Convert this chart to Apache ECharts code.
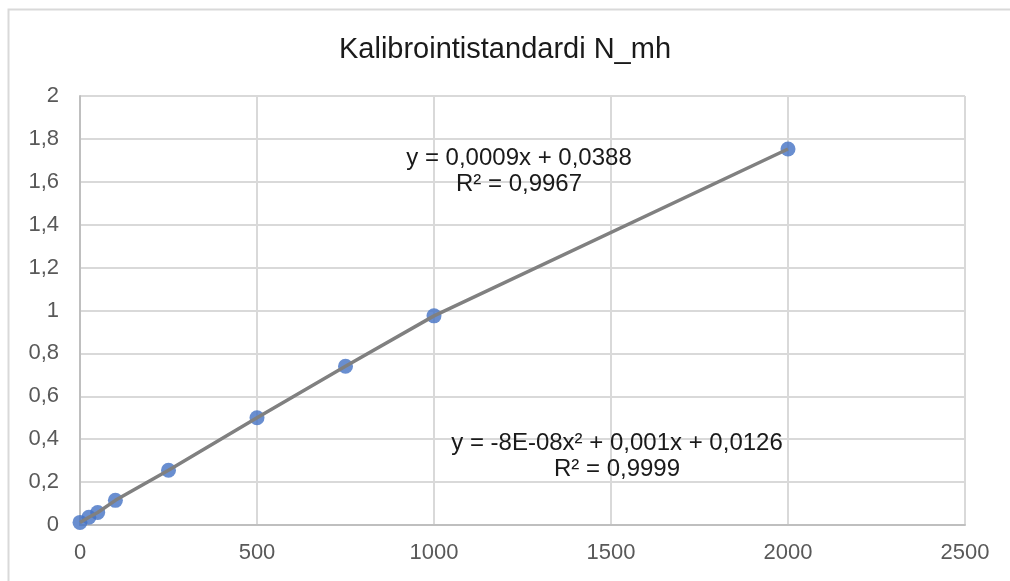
<!DOCTYPE html>
<html>
<head>
<meta charset="utf-8">
<script src="https://cdn.jsdelivr.net/npm/echarts@6/dist/echarts.min.js"></script>
<style>
  html, body { margin: 0; padding: 0; background: #ffffff; }
  #chart { width: 1010px; height: 581px; }
</style>
</head>
<body>
<div id="chart"></div>
<script>
// Calibration standards: concentration vs. response
const concentrations = [0, 25, 50, 100, 250, 500, 750, 1000, 2000];
const responses = [0.012, 0.036, 0.058, 0.115, 0.255, 0.500, 0.740, 0.975, 1.753];

const xTicks = [0, 500, 1000, 1500, 2000, 2500];
const yTicks = [0, 0.2, 0.4, 0.6, 0.8, 1, 1.2, 1.4, 1.6, 1.8, 2];

const titleText = 'Kalibrointistandardi N_mh';
const linearFitLines = ['y = 0,0009x + 0,0388', 'R² = 0,9967'];
const polyFitLines = ['y = -8E-08x² + 0,001x + 0,0126', 'R² = 0,9999'];

const points = concentrations.map((c, i) => [c, responses[i]]);
const fmtY = v => String(+Number(v).toFixed(1)).replace('.', ',');
const fmtX = v => String(Math.round(v));

const FONT = '"Liberation Sans", Arial, sans-serif';
const chart = echarts.init(document.getElementById('chart'));

chart.setOption({
  animation: false,
  backgroundColor: '#ffffff',
  title: {
    text: titleText,
    left: 'center',
    top: 30,
    textStyle: { fontFamily: FONT, fontSize: 29, fontWeight: 'normal', color: '#1a1a1a' }
  },
  grid: { left: 80, right: 45, top: 96, bottom: 56 },
  xAxis: {
    type: 'value',
    min: xTicks[0],
    max: xTicks[xTicks.length - 1],
    interval: xTicks[1] - xTicks[0],
    axisLine: { show: true, lineStyle: { color: '#bfbfbf', width: 2 } },
    axisTick: { show: false },
    axisLabel: { margin: 17, fontFamily: FONT, fontSize: 22, color: '#595959', formatter: fmtX },
    splitLine: { show: true, lineStyle: { color: '#d9d9d9', width: 2 } }
  },
  yAxis: {
    type: 'value',
    min: yTicks[0],
    max: yTicks[yTicks.length - 1],
    interval: 0.2,
    axisLine: { show: true, lineStyle: { color: '#bfbfbf', width: 2 } },
    axisTick: { show: false },
    axisLabel: { margin: 21, fontFamily: FONT, fontSize: 22, color: '#595959', formatter: fmtY },
    splitLine: { show: true, lineStyle: { color: '#d9d9d9', width: 2 } }
  },
  graphic: [
    {
      type: 'rect',
      silent: true,
      shape: { x: 8.5, y: 9.5, width: 1010, height: 600 },
      style: { fill: 'none', stroke: '#d9d9d9', lineWidth: 2 }
    },
    {
      type: 'text',
      x: 519, y: 145, z: 10,
      style: {
        text: linearFitLines.join('\n'),
        align: 'center', verticalAlign: 'top',
        font: '24px ' + FONT, fill: '#1a1a1a', lineHeight: 26
      },
      silent: true
    },
    {
      type: 'text',
      x: 617, y: 430, z: 10,
      style: {
        text: polyFitLines.join('\n'),
        align: 'center', verticalAlign: 'top',
        font: '24px ' + FONT, fill: '#1a1a1a', lineHeight: 26
      },
      silent: true
    }
  ],
  series: [
    {
      name: 'Standardit',
      type: 'scatter',
      data: points,
      symbol: 'circle',
      symbolSize: 15,
      itemStyle: { color: '#4472c4' },
      z: 2
    },
    {
      name: 'Trendiviiva',
      type: 'line',
      data: points,
      showSymbol: false,
      lineStyle: { color: '#808080', width: 3.5 },
      z: 3
    }
  ]
});
</script>
</body>
</html>
